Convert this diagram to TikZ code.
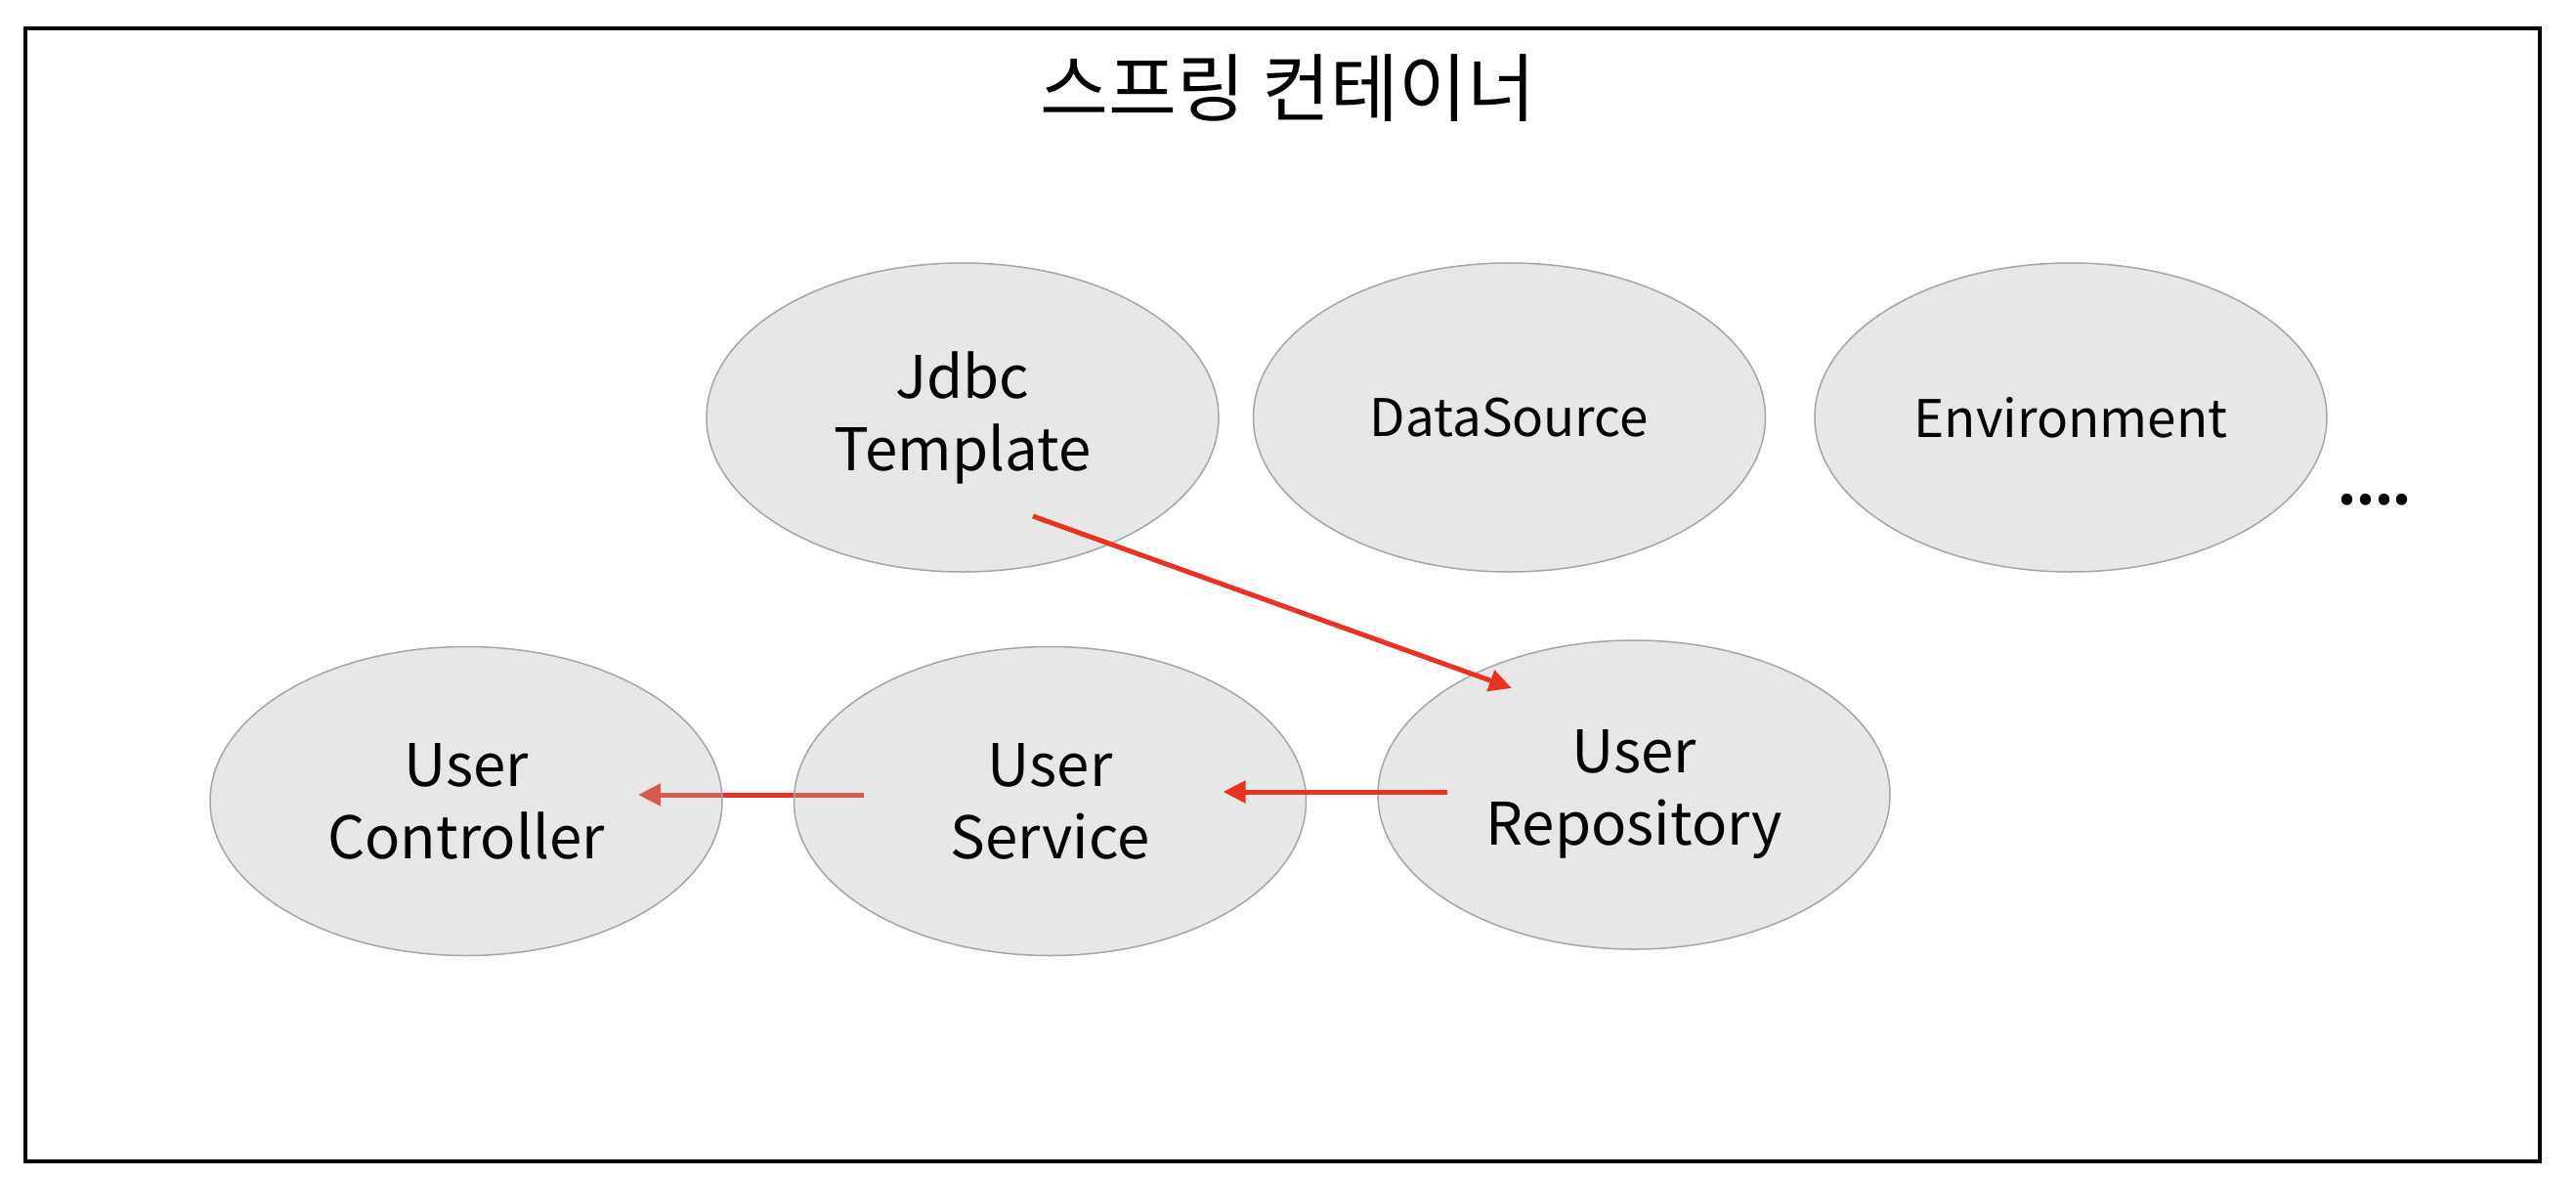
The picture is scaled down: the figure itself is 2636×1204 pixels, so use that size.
\documentclass[tikz,border=0pt]{standalone}
\usepackage{fontspec}
\setmainfont{Noto Sans CJK KR}
\usetikzlibrary{positioning,calc,arrows.meta,backgrounds,shapes.geometric}

\definecolor{beanfill}{RGB}{177,177,177}
\definecolor{beanline}{RGB}{165,165,165}
\definecolor{wirered}{RGB}{233,50,36}

\tikzset{
    bean/.style={ellipse,draw=beanline,line width=0.75pt,fill=beanfill,fill opacity=0.31,text opacity=1,
                 minimum width=262pt,minimum height=158pt,inner sep=0pt,align=center,
                 font=\fontsize{30}{37}\selectfont},
    smallbean/.style={bean,font=\fontsize{26.5}{31}\selectfont},
    wire/.style={draw=wirered,line width=2.5pt,-{Triangle[length=11.5pt,width=11pt]}}
}

\begin{document}
\begin{tikzpicture}[x=0.5pt,y=-0.5pt]
    \useasboundingbox (0,0) rectangle (2636,1204);
    \draw[line width=2pt] (26,29.5) rectangle (2599,1188);
    \node[font=\fontsize{38}{44}\selectfont] (title) at (1318,90) {스프링 컨테이너};

    \node[bean] (jdbc) at (985,427) {Jdbc\\Template};
    \node[smallbean] (datasource) [right=17pt of jdbc] {DataSource};
    \node[smallbean] (environment) [right=24.5pt of datasource] {Environment};
    \node[anchor=base,font=\bfseries\fontsize{27}{32}\selectfont] (more) at (2430,516) {....};

    \node[bean] (controller) at (477,819.5) {User\\Controller};
    \node[bean] (service) [right=36pt of controller] {User\\Service};
    \node[bean] (repository) [right=36pt of service,yshift=3.25pt] {User\\Repository};

    \draw[wire] ($(jdbc)+(72,101)$) -- ($(repository)+(-125,-109)$);
    \draw[wire] ($(repository)+(-191,-3)$) -- ($(service)+(177,-9.5)$);
    \begin{pgfonlayer}{background}
        \draw[wire] ($(service)+(-191,-6.5)$) -- ($(controller)+(176,-6.5)$);
    \end{pgfonlayer}
\end{tikzpicture}
\end{document}
